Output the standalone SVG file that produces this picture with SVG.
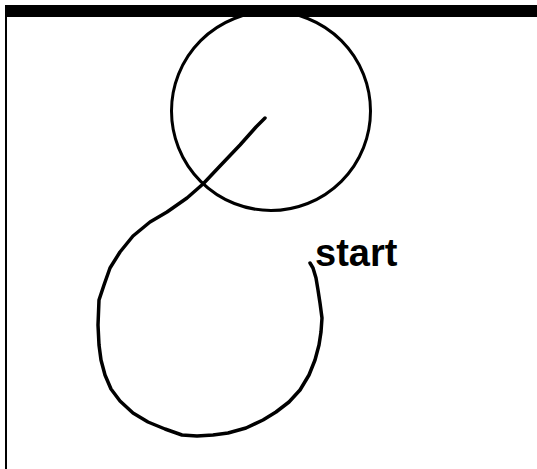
<svg xmlns="http://www.w3.org/2000/svg" width="537" height="469" viewBox="0 0 537 469">
<style>
.frame{fill:#000}
.ring{fill:none;stroke:#000;stroke-width:3}
.trail{fill:none;stroke:#000;stroke-width:3.5;stroke-linejoin:round;stroke-linecap:round}
.lbl{font-family:"Liberation Sans",Arial,sans-serif;font-weight:bold;font-size:38px;fill:#000}
</style>
<rect width="537" height="469" fill="#fff"/>
<g id="frame">
<rect class="frame" x="5" y="5" width="532" height="12"/>
<rect class="frame" x="5" y="5" width="2" height="464"/>
</g>
<g id="circle">
<circle class="ring" cx="271" cy="111" r="99.5"/>
</g>
<g id="connectors">
<polyline class="trail" points="310,263 313,268 316,278 318,290 320,303 322,318 321,332 319,345 315,360 309,375 300,390 289,402 276,412 263,420 246,428 228,433 213,435 197,436 182,435 165,429 148,422 133,413 120,401 111,389 105,375 101,360 99,345 98,325 99,300 104,285 110,268 120,252 133,236 150,222 167,212 187,198 203,184 220,166 240,145 256,127 265,118"/>
</g>
<g id="start">
<text class="lbl" x="315" y="266">start</text>
</g>
</svg>
